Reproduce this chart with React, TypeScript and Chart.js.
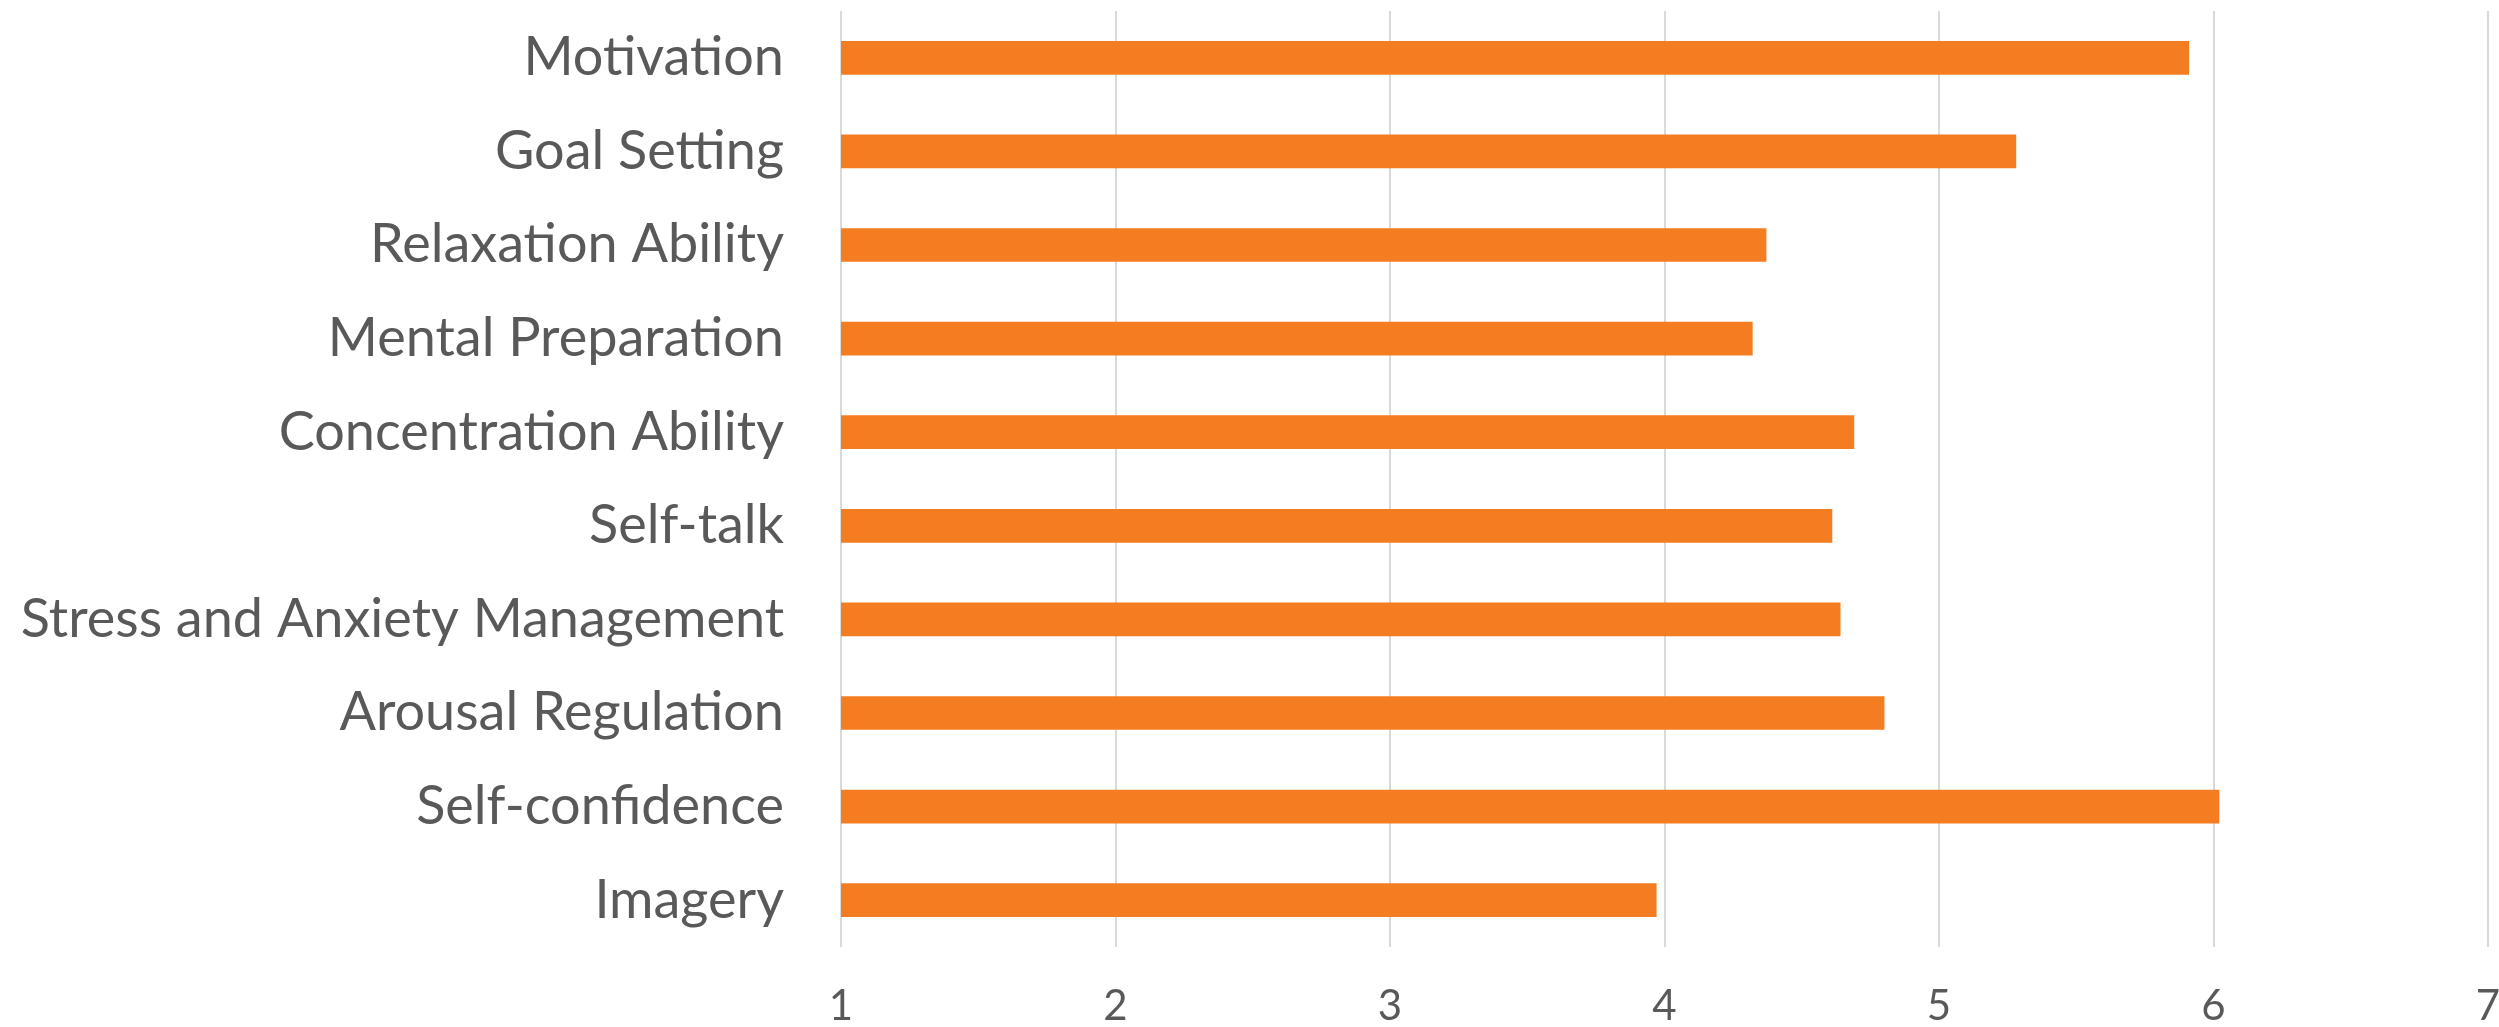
import React, { useEffect, useRef } from "react";
import { Chart, registerables } from "chart.js";

Chart.register(...registerables);

const categories = [
  "Motivation",
  "Goal Setting",
  "Relaxation Ability",
  "Mental Preparation",
  "Concentration Ability",
  "Self-talk",
  "Stress and Anxiety Management",
  "Arousal Regulation",
  "Self-confidence",
  "Imagery",
];

const scores = [5.91, 5.28, 4.37, 4.32, 4.69, 4.61, 4.64, 4.80, 6.02, 3.97];

const xMin = 1;
const xMax = 7;
const xStep = 1;

const BAR_COLOR = "rgb(244,125,33)";
const TEXT_COLOR = "#595959";
const GRID_COLOR = "#D9D9D9";
const FONT = "Lato, 'Open Sans', sans-serif";

export default function App() {
  const canvasRef = useRef<HTMLCanvasElement | null>(null);

  useEffect(() => {
    document.body.style.margin = "0";
    const canvas = canvasRef.current;
    if (!canvas) return;
    const chart = new Chart(canvas, {
      type: "bar",
      data: {
        labels: categories,
        datasets: [
          {
            data: scores,
            backgroundColor: BAR_COLOR,
            borderWidth: 0,
            barThickness: 33,
          },
        ],
      },
      options: {
        indexAxis: "y",
        animation: false,
        responsive: false,
        maintainAspectRatio: false,
        layout: { padding: { top: 11, right: 11, bottom: 0, left: 0 } },
        plugins: {
          legend: { display: false },
          tooltip: { enabled: false },
          title: { display: false },
        },
        scales: {
          x: {
            type: "linear",
            min: xMin,
            max: xMax,
            ticks: {
              stepSize: xStep,
              color: TEXT_COLOR,
              font: { family: FONT, size: 42 },
              padding: 34,
            },
            grid: {
              color: GRID_COLOR,
              lineWidth: 2,
              drawTicks: false,
              tickLength: 0,
            },
            border: { display: false },
            afterFit: (scale: any) => {
              scale.height = 80;
              scale.paddingLeft = 0;
              scale.paddingRight = 0;
            },
          },
          y: {
            type: "category",
            ticks: {
              color: TEXT_COLOR,
              font: { family: FONT, size: 54 },
              padding: 57,
            },
            grid: { display: false, drawTicks: false, tickLength: 0 },
            border: { display: false },
            afterFit: (scale: any) => {
              scale.width = 841;
              scale.paddingTop = 0;
              scale.paddingBottom = 0;
            },
          },
        },
      },
    });
    return () => chart.destroy();
  }, []);

  return (
    <div style={{ position: "absolute", left: 0, top: 0, width: 2499, height: 1027, background: "#fff" }}>
      <canvas ref={canvasRef} width={2499} height={1027} />
    </div>
  );
}
